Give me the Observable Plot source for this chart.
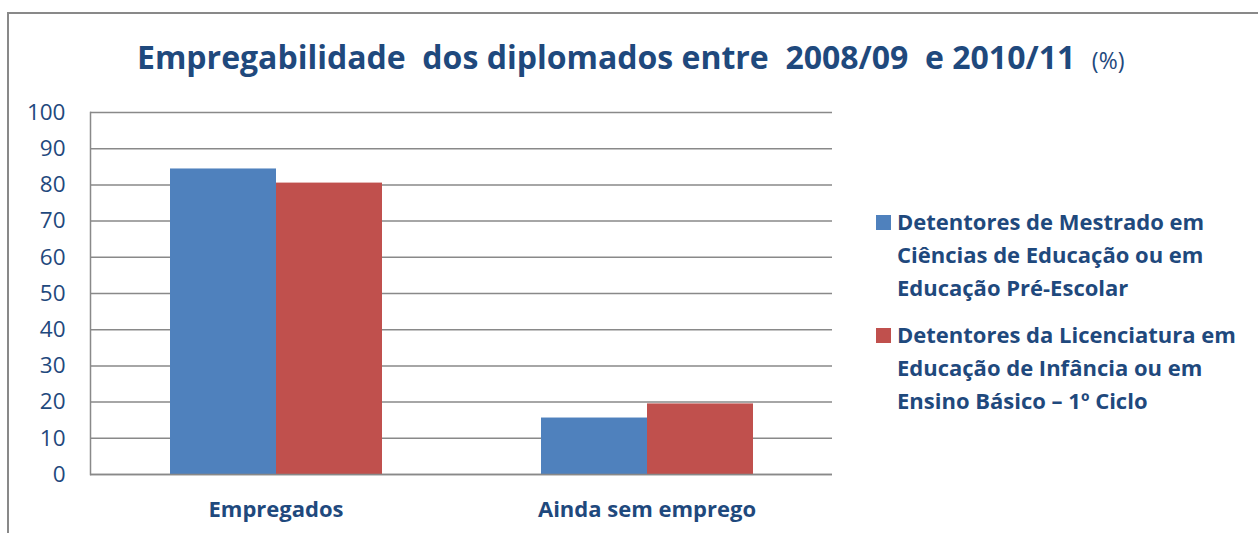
<!DOCTYPE html>
<html>
<head>
<meta charset="utf-8">
<script src="https://cdn.jsdelivr.net/npm/d3@7"></script>
<script src="https://cdn.jsdelivr.net/npm/@observablehq/plot@0.6"></script>
<style>
  html, body { margin: 0; padding: 0; background: #fff; width: 1258px; height: 533px; overflow: hidden; }
  #wrap { position: relative; width: 1258px; height: 533px; font-family: "Open Sans", sans-serif; color: #1F497D; }
  #frame { position: absolute; left: 7px; top: 12px; width: 1300px; height: 600px; border: 2px solid #898989; box-sizing: border-box; }
  #chart { position: absolute; left: 0; top: 0; }
  #title { position: absolute; left: 137px; top: 36px; white-space: pre; font-size: 32px; font-weight: bold; line-height: 42px; }
  #title .pct { font-size: 23px; font-weight: normal; }
  .leg { position: absolute; left: 876px; font-size: 22px; font-weight: bold; line-height: 33px; white-space: pre; }
  .leg .sw { position: absolute; left: 0; top: 10px; width: 15px; height: 15px; }
  .leg .tx { position: absolute; left: 21px; top: 0; }
</style>
</head>
<body>
<div id="wrap">
  <div id="frame"></div>
  <div id="chart"></div>
  <div id="title"></div>
  <div id="legend"></div>
</div>
<script>
const categories = ["Empregados", "Ainda sem emprego"];
const seriesNames = [
  "Detentores de Mestrado em\nCiências de Educação ou em\nEducação Pré-Escolar",
  "Detentores da Licenciatura em\nEducação de Infância ou em\nEnsino Básico – 1º Ciclo"
];
const seriesColors = ["#4F81BD", "#C0504D"];
const mestradoValues = [84.4, 15.6];
const licenciaturaValues = [80.5, 19.5];
const yTicks = [0, 10, 20, 30, 40, 50, 60, 70, 80, 90, 100];
const titleMain = "Empregabilidade  dos diplomados entre  2008/09  e 2010/11";
const titleUnit = "(%)";

const data = [];
categories.forEach((c, i) => {
  data.push({cat: c, series: seriesNames[0], value: mestradoValues[i]});
  data.push({cat: c, series: seriesNames[1], value: licenciaturaValues[i]});
});

const plot = Plot.plot({
  width: 1258,
  height: 533,
  marginLeft: 90,
  marginRight: 426,
  marginTop: 112,
  marginBottom: 59,
  style: {fontFamily: "'Open Sans', sans-serif", background: "transparent", color: "#1F497D"},
  fx: {domain: categories, padding: 0, label: null},
  x: {domain: seriesNames, axis: null, paddingInner: 0, paddingOuter: 0.75},
  y: {domain: [0, 100], label: null},
  color: {domain: seriesNames, range: seriesColors},
  marks: [
    Plot.gridY(yTicks, {stroke: "#898989", strokeOpacity: 1, strokeWidth: 1.5}),
    Plot.barY(data, {fx: "cat", x: "series", y: "value", fill: "series"}),
    Plot.frame({anchor: "left", stroke: "#898989", strokeWidth: 1.5, facet: "super"}),
    Plot.ruleY([0], {stroke: "#898989", strokeWidth: 1.5}),
    Plot.axisY(yTicks, {tickSize: 0, tickPadding: 25, fontSize: 22.5, fill: "#1F497D", label: null}),
    Plot.axisFx({anchor: "bottom", tickSize: 0, tickPadding: 27, fontSize: 22, fontWeight: "bold", fill: "#1F497D", label: null})
  ]
});
document.getElementById("chart").appendChild(plot);

const t = document.getElementById("title");
t.textContent = titleMain + "  ";
const u = document.createElement("span");
u.className = "pct";
u.textContent = titleUnit;
t.appendChild(u);

const legend = document.getElementById("legend");
const legTops = [205, 318];
seriesNames.forEach((s, i) => {
  const d = document.createElement("div");
  d.className = "leg";
  d.style.top = legTops[i] + "px";
  const sw = document.createElement("div");
  sw.className = "sw";
  sw.style.background = seriesColors[i];
  const tx = document.createElement("div");
  tx.className = "tx";
  tx.textContent = s;
  d.appendChild(sw);
  d.appendChild(tx);
  legend.appendChild(d);
});
</script>
</body>
</html>
